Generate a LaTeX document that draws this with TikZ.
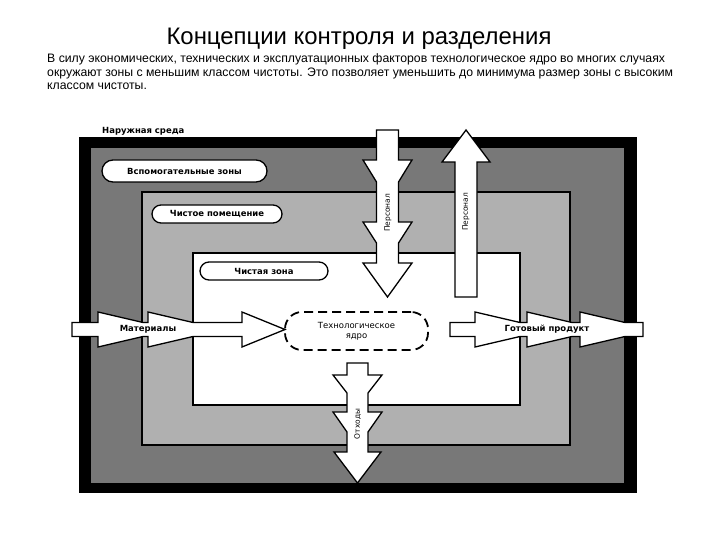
\documentclass[tikz,border=0pt]{standalone}
\usepackage{fontspec}
\setmainfont{Liberation Sans}
\newfontfamily\labelfont{DejaVu Sans}
\usetikzlibrary{positioning}
\definecolor{auxgray}{gray}{0.47}
\definecolor{roomgray}{gray}{0.69}
\tikzstyle{zone}=[rectangle,inner sep=0,outer sep=0]
\tikzstyle{zonelabel}=[rectangle,rounded corners=9bp,draw=black,line width=1.3bp,fill=white,minimum height=18bp,inner sep=0,font=\labelfont\fontsize{8.5}{10}\selectfont\bfseries]
\tikzstyle{blockarrow}=[draw=black,line width=1.3bp,fill=white,line join=miter]
\tikzstyle{arrowtext}=[inner sep=0,font=\labelfont\fontsize{8.5}{10}\selectfont\bfseries]

\begin{document}
\begin{tikzpicture}[x=1bp,y=-1bp]
		\useasboundingbox (0,0) rectangle (720,540);
		% header
		\node[inner sep=0] (title) at (359,39) {\fontsize{24}{28}\selectfont Концепции контроля и разделения};
		\node[anchor=north west,inner sep=0,align=left,font=\fontsize{12.3}{14}\selectfont] (intro) at (47,53)
			{В силу экономических, технических и эксплуатационных факторов технологическое ядро во многих случаях\\
			 окружают зоны с меньшим классом чистоты. Это позволяет уменьшить до минимума размер зоны с высоким\\
			 классом чистоты.};
		
		% nested zones
		\node[zone,fill=black,minimum width=558bp,minimum height=356bp] (env) at (358,315) {};
		\node[zone,fill=auxgray,minimum width=533bp,minimum height=335bp] (aux) at (357.5,315.5) {};
		\node[zone,draw=black,line width=1.5bp,fill=roomgray,minimum width=428bp,minimum height=253bp] (room) at (356,318.5) {};
		\node[zone,draw=black,line width=1.5bp,fill=white,minimum width=327bp,minimum height=152bp] (clean) at (356.5,329) {};
		
		\node[inner sep=1bp,font=\labelfont\fontsize{8.5}{10}\selectfont\bfseries] (envlabel) [above right=0bp and 22bp of env.north west] {Наружная среда};
		\node[zonelabel,minimum width=165bp,minimum height=22bp,rounded corners=11bp] (auxlabel) at (184.5,171) {Вспомогательные зоны};
		\node[zonelabel,minimum width=130bp] (roomlabel) at (217,214) {Чистое помещение};
		\node[zonelabel,minimum width=128bp] (cleanlabel) at (264,271) {Чистая зона};
		
		\node[rectangle,rounded corners=17bp,draw=black,line width=1.8bp,dash pattern=on 9bp off 5bp,fill=white,minimum width=143bp,minimum height=38bp,align=center,inner sep=0,font=\labelfont\fontsize{8.5}{10}\selectfont] (core) at (356.5,331) {Технологическое\\ядро};
		
		% block arrows
		\draw[blockarrow] (72,322.5) -- (98,322.5) -- (98,312) -- (143,322.5) -- (148,322.5) -- (148,312) -- (193,322.5) -- (242,322.5) -- (242,312) -- (285,329.5)
			-- (242,347) -- (242,336.5) -- (193,336.5) -- (148,347) -- (148,336.5) -- (143,336.5) -- (98,347) -- (98,336.5) -- (72,336.5) -- cycle;
		\draw[blockarrow] (450,322.5) -- (475,322.5) -- (475,312) -- (520,322.5) -- (527,322.5) -- (527,312) -- (572,322.5) -- (580,322.5) -- (580,312) -- (625,322.5) -- (643,322.5)
			-- (643,336.5) -- (625,336.5) -- (580,347) -- (580,336.5) -- (572,336.5) -- (527,347) -- (527,336.5) -- (520,336.5) -- (475,347) -- (475,336.5) -- (450,336.5) -- cycle;
		\draw[blockarrow] (376.5,130) -- (398.5,130) -- (398.5,160) -- (412,160) -- (398.5,182) -- (398.5,222) -- (412,222) -- (398.5,243) -- (398.5,263) -- (412,263) -- (387.5,297)
			-- (363,263) -- (376.5,263) -- (376.5,243) -- (363,222) -- (376.5,222) -- (376.5,182) -- (363,160) -- (376.5,160) -- cycle;
		\draw[blockarrow] (455,297) -- (455,162) -- (442,162) -- (466,130) -- (490,162) -- (477,162) -- (477,297) -- cycle;
		\draw[blockarrow] (347,363) -- (368,363) -- (368,375) -- (382,375) -- (368,393) -- (368,412) -- (382,412) -- (368,432) -- (368,452) -- (381,452) -- (357.5,483)
			-- (334,452) -- (347,452) -- (347,432) -- (333,412) -- (347,412) -- (347,393) -- (333,375) -- (347,375) -- cycle;
		
		\node[arrowtext] (materials) at (148,329.5) {Материалы};
		\node[arrowtext] (product) at (547,329.5) {Готовый продукт};
		\node[arrowtext,rotate=90,font=\labelfont\fontsize{7.5}{9}\selectfont] (staffin) at (388,213) {Персонал};
		\node[arrowtext,rotate=90,font=\labelfont\fontsize{7.5}{9}\selectfont] (staffout) at (466,212) {Персонал};
		\node[arrowtext,rotate=90,font=\labelfont\fontsize{7.5}{9}\selectfont] (waste) at (357.5,424) {Отходы};
	\end{tikzpicture}
\end{document}
